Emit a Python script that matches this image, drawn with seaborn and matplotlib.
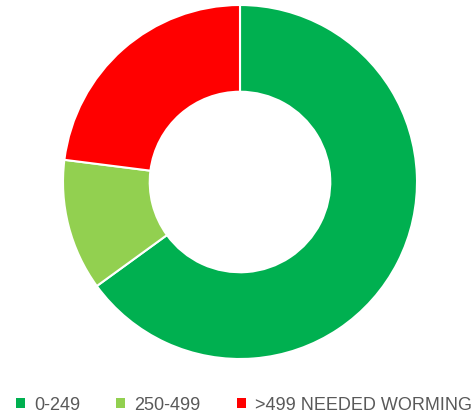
import matplotlib.pyplot as plt
import seaborn as sns
from matplotlib.patches import Patch

sns.set_theme(style="white")
plt.rcParams['font.family'] = ['Liberation Sans', 'DejaVu Sans']

categories = ["0-249", "250-499", ">499 NEEDED WORMING"]
shares = [65, 12, 23]
colors = ["#00B050", "#92D050", "#FF0000"]

fig = plt.figure(figsize=(4.76, 4.18), dpi=100)
W, H = 476, 418
cx, cy, r = 240, 182, 177
ax = fig.add_axes([(cx - r) / W, (H - cy - r) / H, 2 * r / W, 2 * r / H])

ax.pie(shares, colors=colors, startangle=90, counterclock=False,
       wedgeprops=dict(width=0.49, edgecolor="white", linewidth=1.5))
ax.set_aspect("equal")
ax.set_xlim(-1, 1)
ax.set_ylim(-1, 1)
ax.axis("off")

handles = [Patch(facecolor=c, edgecolor="none") for c in colors]
fig.legend(handles, categories, loc="center", bbox_to_anchor=(0.512, 1 - 405 / H),
           ncol=3, frameon=False, fontsize=13, labelcolor="#595959",
           handlelength=0.5, handleheight=0.5, handletextpad=0.5,
           columnspacing=2.0)

fig.savefig("out.png", dpi=100, facecolor="white")
